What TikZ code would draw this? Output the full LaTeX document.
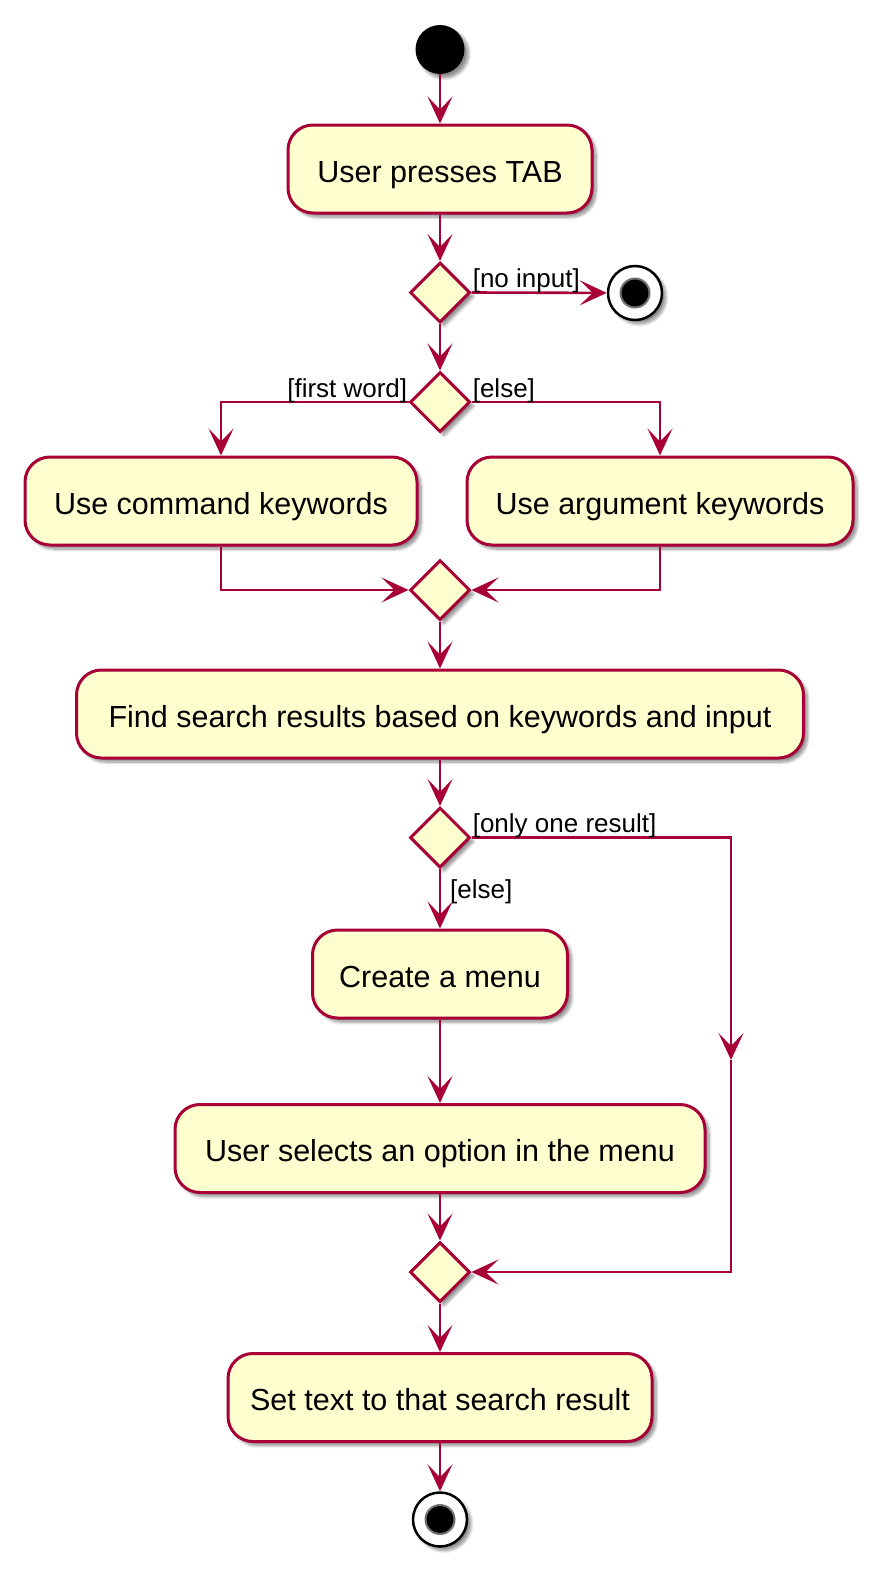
\documentclass[tikz,border=0pt]{standalone}
\usepackage{fontspec}
\setmainfont{Liberation Sans}
\usetikzlibrary{arrows.meta,shapes.geometric,shadows.blur,calc}
\definecolor{pu}{HTML}{A80036}
\definecolor{pf}{HTML}{FEFECE}
\begin{document}
\begin{tikzpicture}[x=1pt,y=-1pt,
  shad/.style={blur shadow={shadow xshift=4pt,shadow yshift=-4pt,shadow blur radius=3pt,shadow blur steps=8,shadow opacity=45}},
  act/.style={draw=pu,fill=pf,line width=3pt,rounded corners=25pt,minimum height=88pt,inner sep=0pt,
    text height=28pt,text depth=2pt,font=\fontsize{30.5}{36}\selectfont,shad},
  dec/.style={diamond,draw=pu,fill=pf,line width=3pt,minimum width=60pt,minimum height=60pt,inner sep=0pt,shad},
  startnode/.style={circle,fill=black,minimum size=49pt,inner sep=0pt,shad},
  endnode/.style={circle,draw=black,line width=2.5pt,fill=white,minimum size=54pt,inner sep=0pt,shad,
    path picture={\fill[black,draw=black!55,line width=2pt] (path picture bounding box.center) circle (14.5pt);}},
  conn/.style={draw=pu,line width=2.6pt,-{Stealth[length=27pt,width=25pt,inset=13pt]}},
  lbl/.style={font=\fontsize{26}{30}\selectfont,inner sep=0pt}
]
\useasboundingbox (0,0) rectangle (877,1571);

\node[startnode] (start) at (440,49.5) {};
\node[act,minimum width=304pt] (b1) at (440,169) {User presses TAB};
\node[dec] (d1) at (440,292.5) {};
\node[endnode] (e1) at (635,293) {};
\node[dec] (d2) at (440,402) {};
\node[act,minimum width=392pt] (cmd) at (221,501) {Use command keywords};
\node[act,minimum width=386pt] (arg) at (660,501) {Use argument keywords};
\node[dec] (d3) at (440,590) {};
\node[act,minimum width=727pt] (find) at (440,714) {Find search results based on keywords and input};
\node[dec] (d4) at (440,837.5) {};
\node[act,minimum width=255pt] (menu) at (440,974) {Create a menu};
\node[act,minimum width=530pt] (sel) at (440,1148.5) {User selects an option in the menu};
\node[dec] (d5) at (440,1272) {};
\node[act,minimum width=424pt] (set) at (440,1397.5) {Set text to that search result};
\node[endnode] (e2) at (440,1519.5) {};
\coordinate (r1) at (731,1060);
\node[lbl,anchor=base west] (l4) at ([xshift=10pt,yshift=-29pt]d4.south) {[else]};

\draw[conn] (start) -- (b1);
\draw[conn] (b1) -- (d1);
\draw[conn] (d1.east) -- node[lbl,pos=0,anchor=base west,yshift=5pt]{[no input]} (e1);
\draw[conn] (d1) -- (d2);
\draw[conn] (d2.west) -| node[lbl,pos=0,anchor=base east,yshift=5pt]{[first word]} (cmd.north);
\draw[conn] (d2.east) -| node[lbl,pos=0,anchor=base west,yshift=5pt]{[else]} (arg.north);
\draw[conn] (cmd.south) |- (d3.west);
\draw[conn] (arg.south) |- (d3.east);
\draw[conn] (d3) -- (find);
\draw[conn] (find) -- (d4);
\draw[conn] (d4) -- (menu);
\draw[conn] (d4.east) -| node[lbl,pos=0,anchor=base west,yshift=5pt]{[only one result]} (r1);
\draw[conn] (r1) |- (d5.east);
\draw[conn] (menu) -- (sel);
\draw[conn] (sel) -- (d5);
\draw[conn] (d5) -- (set);
\draw[conn] (set) -- (e2);
\end{tikzpicture}
\end{document}
